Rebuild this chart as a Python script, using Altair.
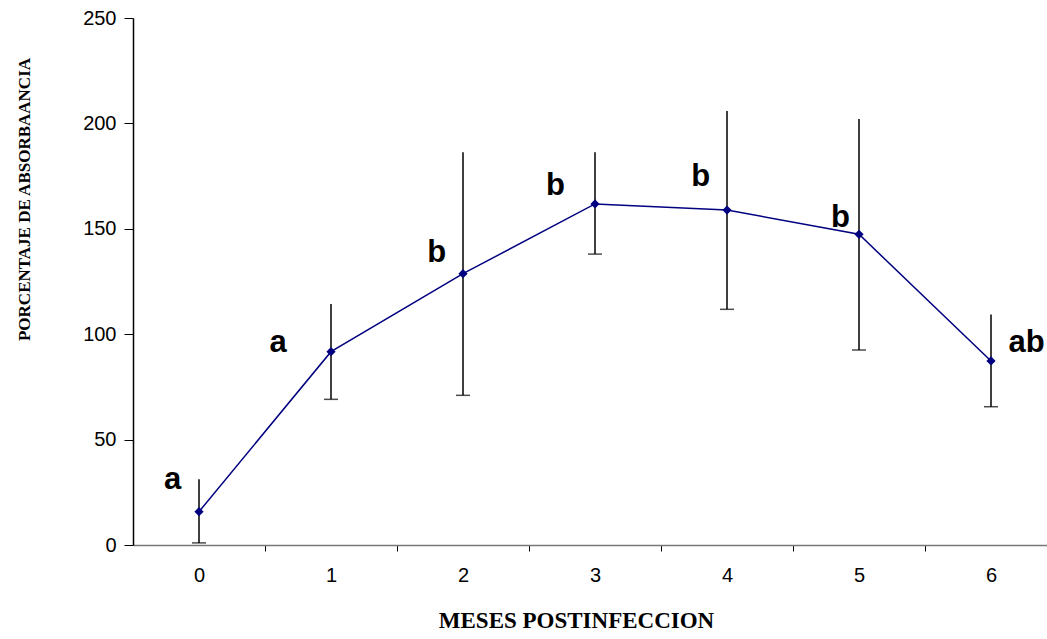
import altair as alt
import pandas as pd

months = [0, 1, 2, 3, 4, 5, 6]
means = [15.8, 91.7, 128.7, 161.8, 158.9, 147.4, 87.3]
upper = [31.2, 114.3, 186.3, 186.3, 205.9, 202.1, 109.4]
lower = [1.0, 69.1, 71.0, 138.0, 111.8, 92.5, 65.6]
letters = ["a", "a", "b", "b", "b", "b", "ab"]
letter_x = [-0.2, 0.6, 1.8, 2.7, 3.8, 4.86, 6.27]
letter_y = [26.6, 91.6, 134.2, 166.0, 170.3, 150.9, 91.6]
x_tick_values = [0, 0.5, 1, 1.5, 2, 2.5, 3, 3.5, 4, 4.5, 5, 5.5, 6]
y_tick_values = [0, 50, 100, 150, 200, 250]

df = pd.DataFrame({
    "month": months, "mean": means, "upper": upper, "lower": lower,
    "letter": letters, "lx": letter_x, "ly": letter_y,
})

xscale = alt.Scale(domain=[-0.5, 6.4242], nice=False, zero=False)
yscale = alt.Scale(domain=[0, 250], nice=False)

xaxis = alt.Axis(
    title="MESES POSTINFECCION",
    values=x_tick_values,
    labelExpr="datum.value % 1 === 0 ? format(datum.value, 'd') : ''",
    tickOpacity={"condition": {"test": "datum.value % 1 === 0", "value": 0}, "value": 1},
    tickSize=6, tickColor="#000000", tickWidth=1,
    domainColor="#777777", domainWidth=1.5,
    labelFont="Liberation Sans", labelFontSize=20, labelColor="#000000",
    labelPadding=14, labelFlush=False, labelOverlap=False,
    titleFont="Liberation Serif", titleFontSize=23, titleFontWeight="bold",
    titleColor="#000000", titleX=443, titleY=82, titleBaseline="alphabetic",
    grid=False,
)
yaxis = alt.Axis(
    title="PORCENTAJE DE ABSORBAANCIA",
    values=y_tick_values,
    tickSize=9, tickColor="#000000", tickWidth=1,
    domainColor="#000000", domainWidth=1.5,
    labelFont="Liberation Sans", labelFontSize=20, labelColor="#000000",
    labelPadding=8,
    titleFont="Liberation Serif", titleFontSize=17, titleFontWeight="bold",
    titleColor="#000000", titleAngle=-90, titleX=-109, titleY=181,
    titleBaseline="middle", titleAlign="center",
    grid=False,
)

base = alt.Chart(df)

rules = base.mark_rule(color="#000000", strokeWidth=1.5).encode(
    x=alt.X("month:Q", scale=xscale, axis=xaxis),
    y=alt.Y("lower:Q", scale=yscale, axis=yaxis),
    y2="upper:Q",
)
caps = base.mark_tick(color="#000000", orient="horizontal", size=14, thickness=1.5).encode(
    x=alt.X("month:Q", scale=xscale, axis=xaxis),
    y=alt.Y("lower:Q", scale=yscale, axis=yaxis),
)
line = base.mark_line(color="#000080", strokeWidth=1.5).encode(
    x=alt.X("month:Q", scale=xscale, axis=xaxis),
    y=alt.Y("mean:Q", scale=yscale, axis=yaxis),
)
points = base.mark_point(shape="diamond", filled=True, size=85, color="#000080", opacity=1).encode(
    x=alt.X("month:Q", scale=xscale, axis=xaxis),
    y=alt.Y("mean:Q", scale=yscale, axis=yaxis),
)
texts = base.mark_text(
    font="Liberation Sans", fontSize=31, fontWeight="bold", color="#000000",
    align="center", baseline="alphabetic",
).encode(
    x=alt.X("lx:Q", scale=xscale, axis=xaxis),
    y=alt.Y("ly:Q", scale=yscale, axis=yaxis),
    text="letter:N",
)

chart = alt.layer(rules, caps, line, points, texts).properties(
    width=914, height=527,
    autosize=alt.AutoSizeParams(type="none"),
    padding={"left": 133, "top": 18, "right": 0, "bottom": 94},
    background="#ffffff",
).configure_view(stroke=None)

chart.save("out.html", embed_options={"renderer": "svg", "actions": False})
